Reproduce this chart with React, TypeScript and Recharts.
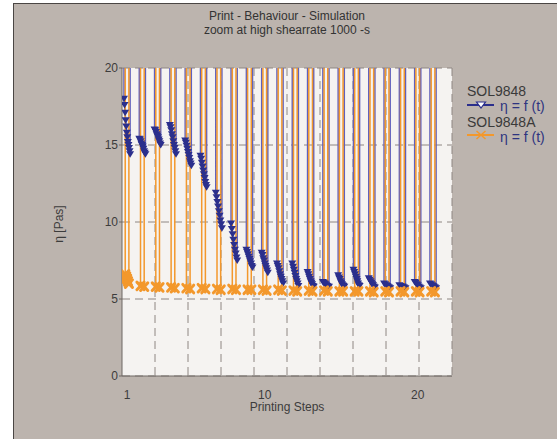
import React from 'react';
import { LineChart, Line, XAxis, YAxis, CartesianGrid, Label } from 'recharts';

// printing steps (high shear intervals)
const steps = [1, 2, 3, 4, 5, 6, 7, 8, 9, 10, 11, 12, 13, 14, 15, 16, 17, 18, 19, 20, 21];

// SOL9848 - viscosity readings inside each high shear interval [Pas]
const sol9848Values: number[][] = [
  [18.0, 17.6, 17.1, 16.6, 16.2, 15.8, 15.5, 15.2, 15.0, 14.8, 14.6, 14.4],
  [15.4, 15.35, 15.25, 15.1, 15.0, 14.9, 14.75, 14.6, 14.5, 14.4],
  [16.0, 15.95, 15.85, 15.7, 15.6, 15.5, 15.35, 15.25, 15.1, 15.0],
  [16.3, 16.15, 15.95, 15.7, 15.5, 15.25, 15.0, 14.8, 14.6, 14.4],
  [15.3, 15.15, 14.95, 14.75, 14.55, 14.35, 14.15, 13.95, 13.8, 13.65],
  [14.3, 14.1, 13.85, 13.6, 13.35, 13.1, 12.85, 12.6, 12.4, 12.25],
  [11.9, 11.6, 11.3, 11.0, 10.7, 10.4, 10.1, 9.85, 9.6],
  [9.9, 9.55, 9.2, 8.85, 8.5, 8.2, 7.95, 7.7, 7.5],
  [8.2, 8.05, 7.9, 7.75, 7.6, 7.45, 7.3, 7.15, 7.05],
  [8.0, 7.85, 7.65, 7.5, 7.3, 7.15, 7.0, 6.85, 6.7],
  [7.3, 7.15, 7.0, 6.8, 6.6, 6.45, 6.3, 6.15, 6.0],
  [7.3, 7.1, 6.9, 6.7, 6.5, 6.3, 6.15, 6.0, 5.85],
  [6.75, 6.6, 6.45, 6.3, 6.15, 6.05, 5.95, 5.85, 5.8],
  [6.1, 6.05, 6.0, 5.95, 5.9, 5.85, 5.8, 5.8],
  [6.55, 6.4, 6.3, 6.15, 6.05, 5.95, 5.9, 5.85, 5.8],
  [6.9, 6.75, 6.6, 6.45, 6.3, 6.15, 6.0, 5.9, 5.85],
  [6.35, 6.25, 6.15, 6.05, 5.95, 5.9, 5.8, 5.75],
  [6.0, 5.95, 5.9, 5.85, 5.8, 5.75, 5.7],
  [5.9, 5.85, 5.8, 5.8, 5.75, 5.7],
  [6.1, 6.05, 5.95, 5.9, 5.8, 5.75, 5.7],
  [6.0, 5.95, 5.9, 5.85, 5.8, 5.75, 5.7],
];

// SOL9848A - viscosity readings inside each high shear interval [Pas]
const sol9848AValues: number[][] = [
  [6.6, 6.45, 6.3, 6.15, 6.0],
  [5.85, 5.8],
  [5.8, 5.75],
  [5.75, 5.7],
  [5.7, 5.65],
  [5.7, 5.65],
  [5.65, 5.6],
  [5.65, 5.6],
  [5.6, 5.6],
  [5.6, 5.55],
  [5.6, 5.55],
  [5.55, 5.5],
  [5.55, 5.5],
  [5.55, 5.5],
  [5.5, 5.5],
  [5.5, 5.5],
  [5.5, 5.45],
  [5.5, 5.45],
  [5.5, 5.45],
  [5.5, 5.45],
  [5.5, 5.45],
];

// viscosity at rest between the steps (far above the zoom window)
const sol9848RestValue = 120;
const sol9848ARestValue = 60;

const xTicks = [1, 10, 20];
const yTicks = [0, 5, 10, 15, 20];
const xDomain: [number, number] = [0.67, 22.24];
const yDomain: [number, number] = [0, 20];
const gridDivisions = 10;

type Pt = { t: number; eta: number; rest?: boolean };

// spread each interval's readings over a short time window around its step
function buildSeries(values: number[][], rest: number, halfWidth: number): Pt[] {
  const out: Pt[] = [];
  steps.forEach((s, i) => {
    const v = values[i];
    const t0 = s - halfWidth;
    const t1 = s + halfWidth;
    out.push({ t: t0, eta: rest, rest: true });
    v.forEach((eta, j) => out.push({ t: t0 + (j * (t1 - t0)) / Math.max(1, v.length - 1), eta }));
    out.push({ t: t1, eta: rest, rest: true });
  });
  return out;
}

const blueData = buildSeries(sol9848Values, sol9848RestValue, 0.2);
const orangeData = buildSeries(sol9848AValues, sol9848ARestValue, 0.12);

const BLUE_LINE = '#6060bc';
const BLUE_MARK = '#2b2f8c';
const ORANGE = '#f3982c';
const GRID = '#8e8682';
const AXIS = '#6e6864';
const FONT = '"Liberation Sans", Arial, sans-serif';

const TriangleDot = (props: any) => {
  const { cx, cy, payload, index } = props;
  if (payload?.rest || cx == null || cy == null) return <g key={`b${index}`} />;
  return (
    <path
      key={`b${index}`}
      d={`M${cx - 4},${cy - 3} L${cx + 4},${cy - 3} L${cx},${cy + 3.5} Z`}
      fill={BLUE_MARK}
    />
  );
};

const CrossDot = (props: any) => {
  const { cx, cy, payload, index } = props;
  if (payload?.rest || cx == null || cy == null) return <g key={`o${index}`} />;
  return (
    <g key={`o${index}`} stroke={ORANGE} strokeWidth={3} strokeLinecap="round">
      <line x1={cx - 3.6} y1={cy - 3.8} x2={cx + 3.6} y2={cy + 3.8} />
      <line x1={cx - 3.6} y1={cy + 3.8} x2={cx + 3.6} y2={cy - 3.8} />
    </g>
  );
};

// vertical grid: equal divisions of the x range, mapped through the plot box
const verticalGrid = ({ offset }: any) => {
  const span = xDomain[1] - xDomain[0];
  return Array.from({ length: gridDivisions }, (_, i) => {
    const v = xDomain[0] + ((i + 1) * span) / gridDivisions;
    return offset.left + ((v - xDomain[0]) / span) * offset.width;
  });
};

export default function App() {
  return (
    <div style={{ position: 'absolute', left: 0, top: 0, width: 557, height: 439, background: '#fff', overflow: 'hidden', fontFamily: FONT }}>
      <div
        style={{
          position: 'absolute',
          left: 13,
          top: 3,
          width: 560,
          height: 450,
          background: '#bcb4ae',
          borderLeft: '1px solid #4a4644',
          borderTop: '1px solid #4a4644',
        }}
      />
      <div style={{ position: 'absolute', left: 137, top: 9, width: 300, textAlign: 'center', fontSize: 12, lineHeight: '14px', color: '#333' }}>
        Print - Behaviour - Simulation
        <br />
        zoom at high shearrate 1000 -s
      </div>

      <div style={{ position: 'absolute', left: 0, top: 0 }}>
        <LineChart width={557} height={439} margin={{ top: 68, right: 105, bottom: 23, left: 60 }}>
          <CartesianGrid
            fill="#f5f3f1"
            stroke={GRID}
            strokeDasharray="8 5"
            verticalCoordinatesGenerator={verticalGrid}
          />
          <XAxis
            type="number"
            dataKey="t"
            domain={xDomain}
            ticks={xTicks}
            allowDataOverflow
            height={40}
            tickLine={false}
            tickMargin={8}
            axisLine={{ stroke: AXIS }}
            tick={{ fill: '#3c3c3c', fontSize: 12, fontFamily: FONT }}
          >
            <Label
              content={({ viewBox }: any) => (
                <text
                  x={viewBox.x + viewBox.width / 2}
                  y={viewBox.y + 32}
                  textAnchor="middle"
                  dominantBaseline="middle"
                  fontSize={12}
                  fontFamily={FONT}
                  fill="#3c3c3c"
                >
                  Printing Steps
                </text>
              )}
            />
          </XAxis>
          <YAxis
            type="number"
            domain={yDomain}
            ticks={yTicks}
            allowDataOverflow
            width={62}
            tickSize={3}
            tickMargin={1}
            tickLine={{ stroke: AXIS }}
            axisLine={{ stroke: AXIS }}
            tick={{ fill: '#3c3c3c', fontSize: 12, fontFamily: FONT }}
          >
            <Label
              content={({ viewBox }: any) => {
                const x = viewBox.x;
                const y = viewBox.y + viewBox.height / 2 + 2;
                return (
                  <text
                    x={x}
                    y={y}
                    transform={`rotate(-90 ${x} ${y})`}
                    textAnchor="middle"
                    dominantBaseline="middle"
                    fontSize={12}
                    fontFamily={FONT}
                    fill="#3c3c3c"
                  >
                    η  [Pas]
                  </text>
                );
              }}
            />
          </YAxis>
          <Line
            data={blueData}
            dataKey="eta"
            type="linear"
            stroke={BLUE_LINE}
            strokeWidth={1.5}
            dot={TriangleDot}
            activeDot={false}
            isAnimationActive={false}
          />
          <Line
            data={orangeData}
            dataKey="eta"
            type="linear"
            stroke={ORANGE}
            strokeWidth={1.5}
            dot={CrossDot}
            activeDot={false}
            isAnimationActive={false}
          />
        </LineChart>
      </div>

      <div style={{ position: 'absolute', left: 467, top: 85, fontSize: 14, lineHeight: '13px', color: '#3a3a3a' }}>SOL9848</div>
      <div style={{ position: 'absolute', left: 466, top: 99, height: 14, display: 'flex', alignItems: 'center' }}>
        <svg width={30} height={14}>
          <line x1={1} y1={6} x2={28} y2={6} stroke={BLUE_MARK} strokeWidth={2} />
          <path d="M10.5,3 L19.5,3 L15,9 Z" fill="#fff" stroke={BLUE_MARK} strokeWidth={1.2} />
        </svg>
        <span style={{ marginLeft: 4, fontSize: 14, lineHeight: '14px', color: '#2e3480' }}>η = f (t)</span>
      </div>
      <div style={{ position: 'absolute', left: 467, top: 116, fontSize: 14, lineHeight: '13px', color: '#3a3a3a' }}>SOL9848A</div>
      <div style={{ position: 'absolute', left: 466, top: 130, height: 14, display: 'flex', alignItems: 'center' }}>
        <svg width={30} height={14}>
          <line x1={1} y1={5} x2={28} y2={5} stroke={ORANGE} strokeWidth={2} />
          <line x1={10.5} y1={1} x2={19.5} y2={9} stroke={ORANGE} strokeWidth={1.5} />
          <line x1={10.5} y1={9} x2={19.5} y2={1} stroke={ORANGE} strokeWidth={1.5} />
        </svg>
        <span style={{ marginLeft: 4, fontSize: 14, lineHeight: '14px', color: '#2e3480' }}>η = f (t)</span>
      </div>
    </div>
  );
}
